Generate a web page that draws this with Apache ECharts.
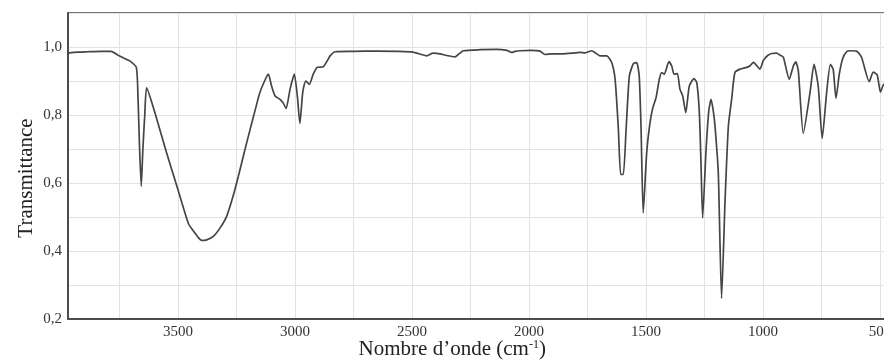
<!DOCTYPE html>
<html>
<head>
<meta charset="utf-8">
<title>Spectre IR</title>
<script src="https://cdn.jsdelivr.net/npm/echarts@6/dist/echarts.min.js"></script>
<style>
  html, body { margin: 0; padding: 0; background: #fff; }
  #chart { width: 884px; height: 362px; }
</style>
</head>
<body>
<div id="chart"></div>
<script>
// nombre d'onde (cm-1)
const waveNumbers = [
  3970, 3930, 3885, 3830, 3786, 3756, 3730, 3706, 3678, 3671, 3665, 3657, 3650, 3642, 3634,
  3600, 3550, 3500, 3455, 3430, 3410, 3399, 3380, 3349, 3320, 3292, 3265, 3242, 3215, 3192,
  3170, 3150, 3130, 3114, 3100, 3085, 3064, 3050, 3038, 3021, 3003, 2990, 2979, 2968, 2962,
  2953, 2939, 2922, 2905, 2879, 2860, 2850, 2829, 2750, 2650, 2560, 2496, 2460, 2437, 2410,
  2380, 2352, 2316, 2295, 2281, 2209, 2138, 2095, 2074, 2060, 2038, 1990, 1953, 1932, 1900,
  1855, 1812, 1782, 1760, 1732, 1715, 1697, 1668, 1647, 1632, 1618, 1608, 1597, 1585, 1571,
  1554, 1540, 1529, 1521, 1512, 1497, 1483, 1471, 1457, 1443, 1433, 1422, 1402, 1390, 1380,
  1366, 1355, 1343, 1330, 1315, 1295, 1283, 1272, 1265, 1258, 1244, 1232, 1222, 1212, 1205,
  1191, 1177, 1162, 1148, 1134, 1120, 1098, 1070, 1055, 1041, 1013, 999, 980, 963, 942,
  927, 913, 888, 870, 860, 849, 828, 799, 782, 764, 747, 728, 712, 700, 688,
  674, 660, 643, 628, 600, 579, 546, 529, 512, 498, 484, 470
];

const transmittance = [
  0.982, 0.985, 0.986, 0.987, 0.987, 0.976, 0.967, 0.959, 0.940, 0.856, 0.720, 0.590, 0.700, 0.800, 0.880,
  0.810, 0.692, 0.580, 0.480, 0.455, 0.437, 0.431, 0.432, 0.443, 0.468, 0.502, 0.560, 0.620, 0.695, 0.757,
  0.815, 0.866, 0.900, 0.920, 0.885, 0.856, 0.846, 0.835, 0.819, 0.876, 0.920, 0.856, 0.775, 0.860, 0.885,
  0.900, 0.890, 0.920, 0.940, 0.942, 0.962, 0.974, 0.986, 0.987, 0.988, 0.987, 0.985, 0.978, 0.974, 0.982,
  0.980, 0.975, 0.971, 0.982, 0.989, 0.992, 0.993, 0.990, 0.984, 0.987, 0.989, 0.990, 0.988, 0.978, 0.980,
  0.980, 0.982, 0.984, 0.983, 0.989, 0.982, 0.974, 0.974, 0.955, 0.905, 0.758, 0.625, 0.625, 0.758, 0.915,
  0.951, 0.954, 0.915, 0.758, 0.512, 0.689, 0.777, 0.821, 0.851, 0.905, 0.925, 0.920, 0.957, 0.944, 0.920,
  0.922, 0.876, 0.856, 0.807, 0.885, 0.907, 0.895, 0.807, 0.659, 0.497, 0.689, 0.810, 0.846, 0.810, 0.767,
  0.630, 0.261, 0.551, 0.767, 0.846, 0.925, 0.935, 0.940, 0.945, 0.955, 0.935, 0.960, 0.975, 0.981, 0.982,
  0.976, 0.970, 0.905, 0.945, 0.956, 0.930, 0.746, 0.866, 0.949, 0.885, 0.731, 0.866, 0.949, 0.934, 0.849,
  0.920, 0.965, 0.986, 0.989, 0.988, 0.970, 0.898, 0.926, 0.918, 0.867, 0.890, 0.880
];

const xTickLabels = [3500, 3000, 2500, 2000, 1500, 1000, 500];
const yTickLabels = [0.2, 0.4, 0.6, 0.8, 1.0];

const serif = "'Liberation Serif', 'DejaVu Serif', serif";
const data = waveNumbers.map((w, i) => [w, transmittance[i]]);

const chart = echarts.init(document.getElementById('chart'), null, { renderer: 'canvas' });

chart.setOption({
  animation: false,
  backgroundColor: '#fff',
  grid: {
    left: 68,
    top: 13,
    height: 306,
    width: 870.5,
    outerBoundsMode: 'none',
    containLabel: false,
    show: true,
    borderColor: '#4d4d4d',
    borderWidth: 1.5
  },
  xAxis: {
    type: 'value',
    inverse: true,
    min: 250,
    max: 3970,
    interval: 250,
    name: 'Nombre d’onde (cm{sup|-1})',
    nameLocation: 'middle',
    nameMoveOverlap: false,
    nameGap: 20,
    nameTextStyle: {
      fontFamily: serif,
      fontSize: 21,
      color: '#222',
      padding: [0, 102, 0, 0],
      rich: {
        sup: { fontFamily: serif, fontSize: 12, color: '#222', verticalAlign: 'top', padding: [0, 0, 9, 0] }
      }
    },
    axisLine: { show: true, lineStyle: { color: '#4d4d4d', width: 2 } },
    axisTick: { show: false },
    axisLabel: {
      margin: 6,
      fontFamily: serif,
      fontSize: 15,
      color: '#333',
      showMinLabel: false,
      showMaxLabel: false,
      formatter: v => xTickLabels.includes(v) ? String(v) : ''
    },
    splitLine: { show: true, lineStyle: { color: '#e2e2e2', width: 1 } }
  },
  yAxis: {
    type: 'value',
    min: 0.2,
    max: 1.1,
    interval: 0.1,
    name: 'Transmittance',
    nameLocation: 'middle',
    nameMoveOverlap: false,
    nameGap: 31,
    nameRotate: 90,
    nameTextStyle: { fontFamily: serif, fontSize: 21, color: '#222', padding: [0, 24, 0, 0] },
    axisLine: { show: true, lineStyle: { color: '#4d4d4d', width: 2 } },
    axisTick: { show: false },
    axisLabel: {
      margin: 6,
      fontFamily: serif,
      fontSize: 15,
      color: '#333',
      formatter: v => {
        const r = Math.round(v * 10) / 10;
        return yTickLabels.some(t => Math.abs(t - r) < 1e-6) ? r.toFixed(1).replace('.', ',') : '';
      }
    },
    splitLine: { show: true, lineStyle: { color: '#e2e2e2', width: 1 } }
  },
  series: [
    {
      type: 'line',
      data: data,
      showSymbol: false,
      smooth: 0.2,
      lineStyle: { color: '#454545', width: 1.7 }
    }
  ]
});
</script>
</body>
</html>
